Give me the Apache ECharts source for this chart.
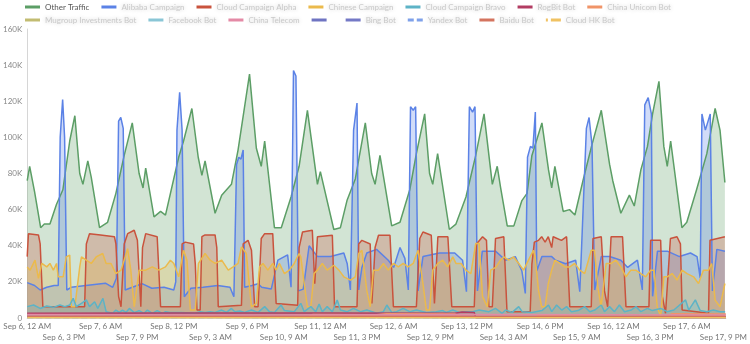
<!DOCTYPE html>
<html>
<head>
<meta charset="utf-8">
<script src="https://cdn.jsdelivr.net/npm/echarts@6/dist/echarts.min.js"></script>
<style>
html,body{margin:0;padding:0;background:#fff;}
#chart{width:750px;height:344px;}
</style>
</head>
<body>
<div id="chart"></div>
<script>
// x = hours since Sep 6, 12 AM ; y = requests in thousands (K)
const tickLabels = ['Sep 6, 12 AM','Sep 6, 3 PM','Sep 7, 6 AM','Sep 7, 9 PM','Sep 8, 12 PM','Sep 9, 3 AM','Sep 9, 6 PM','Sep 10, 9 AM','Sep 11, 12 AM','Sep 11, 3 PM','Sep 12, 6 AM','Sep 12, 9 PM','Sep 13, 12 PM','Sep 14, 3 AM','Sep 14, 6 PM','Sep 15, 9 AM','Sep 16, 12 AM','Sep 16, 3 PM','Sep 17, 6 AM','Sep 17, 9 PM'];
const yTicks = [0,20,40,60,80,100,120,140,160];

const otherTraffic = [[0,76],[1,84],[3,70],[5.5,50],[7,52],[9.3,52],[12,63],[14.6,71],[17.4,98],[19.5,112],[21.5,80],[22.8,74],[24.8,87],[26.2,78],[29.6,50],[32.9,53],[36.3,69],[39.7,90],[43,108],[45.8,80],[47.4,72],[48.5,83],[51.9,56],[54.6,59],[56.6,57],[62,89],[64,98],[67.4,116],[70,89],[71.5,79],[72.8,87],[76.9,58],[79.6,68],[83.6,74],[86.3,93],[91,135],[93.8,94],[95.8,84],[97.2,98],[101.2,50],[104,50],[108,67],[111.3,84],[114.7,115],[118.8,74],[120,81],[125.5,49],[128.2,50],[130.9,65],[134.3,77],[138.4,108],[141,80],[142.4,74],[144.4,90],[149.2,51],[152.6,53],[156.6,71],[159.3,91],[162.7,113],[164.7,80],[166,74],[168,91],[172.8,49],[175.5,52],[179.6,67],[183.6,90],[187,113],[190.4,74],[192.4,84],[193.8,72],[196.5,51],[199.2,51],[202.5,65],[204.6,69],[206.6,90],[210.7,108],[213.4,82],[214.7,72],[216,84],[219.4,59],[222,60],[224.2,57],[227.5,76],[231,95],[235,115],[238.4,85],[239.7,76],[243,58],[246.5,68],[248.5,62],[251.2,82],[253.9,95],[256,113],[258.6,131],[260.6,95],[262,84],[263.4,98],[268,50],[270,53],[274,71],[278.2,91],[281.6,116],[283.6,104],[285.6,75]];

const alibabaCampaign = [[0,19.6],[3,18],[5.3,15.5],[8,17],[11,18],[12.7,18],[13.5,100],[14.5,121],[15.3,100],[16.2,15.5],[18,17],[24,18],[32,19.3],[35,17],[36.5,22],[37.4,109],[38.3,111],[39.3,105],[40.1,15.5],[43,17],[47,19],[51,16.5],[56,17],[60,15.5],[60.8,20],[61.3,104],[62.4,125],[63.4,104],[64.3,11.8],[67,16.5],[72,17],[78,18],[83,17],[84.6,11.8],[85.7,85],[86.6,89],[87.5,88],[88.4,93],[89,17],[92,18],[94.5,19],[96,17],[99.9,16],[102.6,32],[106.6,35],[108,17],[109,137],[110,134],[111,15],[113,16],[115.4,40],[118.8,34],[124.2,34],[129.6,36],[131,30],[132.3,15.5],[133.6,104],[135,119],[135.7,15.5],[137,28],[139,36],[143,38],[147.8,32],[150,28],[152.6,39],[154.6,33],[156,15.5],[156.9,117],[158,115],[159,117],[160,15],[162,34],[168.8,36],[175,36],[178.2,32],[179.8,14.6],[181,117],[182.3,114],[183.3,117],[184.3,15],[186.3,37],[191.7,37],[195.8,32],[199.8,34],[202.5,26],[203.9,13.6],[204.8,89],[206,95],[207,94],[208,114],[208.6,26],[210.7,34],[214.7,34],[216.3,32],[220.4,30],[224.5,32],[226.2,14.6],[228.9,105],[230,111],[231.2,96],[232.3,15.5],[235,34],[238.4,34],[243,32],[245.8,28],[249.8,32],[251.8,15.5],[252.8,118],[254.2,122],[255.5,113],[256,12],[258,37],[262,37],[267,34],[271.5,36],[274.2,34],[275.5,22],[276.2,113],[277.6,104],[279.6,113],[280.5,15],[282.3,38],[285.6,37]];

const cloudCampaignAlpha = [[0,34],[0.5,46.6],[4.6,46],[5.3,41],[6.4,6.2],[23.5,6.2],[24.2,41],[25.5,46.7],[30,46],[35.7,45],[36.3,41],[37.4,12],[38.4,6.2],[39.7,41],[41.1,46.7],[43.8,48.6],[45.1,43],[46.5,6.2],[47.2,39],[48.5,46.7],[53.2,45],[54.6,6.2],[62.7,6.2],[63.4,41],[64.7,42],[68.1,41],[68.8,30],[69.5,4.4],[70.8,4.4],[71.5,45],[72.8,46],[76.9,46],[77.6,39],[78.2,6.2],[87.7,7],[88.4,41],[90.4,43],[91.8,37.5],[93.1,6.2],[94.5,6.2],[95.8,44],[97.2,46.7],[100.5,46.7],[101.9,8],[110.7,7],[111.3,39],[112.7,47.6],[116.7,48.6],[117.7,19],[118.8,45],[124.9,45.8],[125.8,6.2],[135,6.2],[135.7,41],[137,43],[140.4,41],[141.1,8],[142.4,39],[143.8,45.8],[148.5,45.8],[149.9,6.2],[159.3,6.2],[160.7,44],[162,47.6],[165.4,45.8],[166.7,8],[168.1,45],[172.2,45],[173.8,6.2],[183,6.2],[183.9,41],[186.4,45],[188,43],[189,6.2],[190.4,6.2],[191.7,44],[195.1,45],[195.8,44],[196.4,3.5],[205.9,3.5],[206.6,30],[207.6,42],[209.3,43],[210.6,45],[212,42],[213.3,45],[214.7,39],[215.3,45],[218.7,43],[220.8,45],[222.1,6.2],[230.9,6.2],[231.6,44],[235,45],[236.3,15],[237.6,6.2],[239,45],[243.7,45],[245.1,6.2],[254.5,6.2],[255.2,43],[259.3,43],[260,12],[261.3,2.6],[263.3,44],[266,45],[267.4,41],[268.1,4.4],[278.9,2.6],[279.5,43],[285.6,45]];

const chineseCampaign = [[0,28.3],[1.2,26.5],[3.2,32],[4.6,21.9],[6,30.2],[8,28.3],[9.3,30.2],[10.7,26.5],[12,30.2],[12.7,22.8],[14.7,22.8],[16,33.8],[17.4,34.8],[18.1,6.2],[19.5,6.2],[21.5,28.3],[22.2,33.8],[24.2,32],[26.2,30.2],[28.2,33.8],[30.9,35.7],[32.3,30.2],[34.3,30.2],[36.3,24.6],[38.4,26.5],[40.1,33.8],[41.1,38.4],[42.4,26.5],[43.8,6.2],[45.8,26.5],[48.5,26.5],[51.2,28.3],[53.9,26.5],[56.6,28.3],[58.6,32],[60,30.2],[62,22.8],[64,37.5],[65.4,32],[66.8,4.4],[68.8,4.4],[70.1,30.2],[72.8,35.7],[74.9,32],[76.9,30.2],[79.6,32],[82.3,26.5],[84.3,28.3],[86.3,30.2],[87.7,39.4],[89.7,35.7],[91.8,6.2],[93.8,8.1],[95.1,28.3],[96.5,30.2],[98.5,26.5],[100.5,30.2],[101.9,26.5],[103.2,30.2],[105.3,24.6],[107.3,26.5],[109.3,30.2],[111.3,35.7],[112,33.8],[113.4,19.1],[114.7,6.2],[116.1,6.2],[117.4,24.6],[118.8,26.5],[120.8,30.2],[122.8,26.5],[125.5,29.2],[127.6,26.5],[129.6,22.8],[132.3,21],[134.3,22.8],[135.7,35.7],[137,37.5],[139,15.4],[140.4,6.2],[141.7,26.5],[143.8,26.5],[145.8,30.2],[147.8,26.5],[149.9,30.2],[151.9,28.3],[153.9,30.2],[155.9,28.3],[158,30.2],[160,37.5],[160.7,37.5],[162,19.1],[163.4,4.4],[164.7,4.4],[166,26.5],[168.1,30.2],[170.1,32],[172.1,28.3],[174.2,33.8],[175.5,30.2],[177.6,30.2],[179.6,26.5],[181.6,24.6],[183.6,41.2],[185,41.2],[186.4,11.8],[188.4,6.2],[189.7,26.5],[191.8,28],[193.7,32],[195.1,33.8],[197.1,32],[199.1,33.8],[201.2,30.2],[203.2,26.5],[205.2,32],[207.2,37.5],[207.9,33.8],[209.3,15.4],[210.6,6.2],[212,6.2],[213.3,19.1],[214.7,26.5],[216,32],[218.1,30.2],[220.1,28.3],[222.1,28.3],[224.1,30.2],[226.2,26.5],[228.2,24.6],[230.9,37.5],[232.2,37.5],[233.6,17.3],[234.9,6.2],[237,30.2],[239,30.2],[241,32],[243,28.3],[245.1,22.8],[247.1,26.5],[249.1,26.5],[251.2,24.6],[253.2,22.8],[255.2,26.5],[256.6,26.5],[257.9,6.2],[259.3,0.8],[260.6,22.8],[262,22.8],[264,24.6],[266,21],[268.1,26.5],[270.1,24.6],[272.8,22.8],[274.8,19.1],[276.8,26.5],[278.9,26.5],[280.2,30.2],[281.6,9.9],[283.6,6.2],[285.6,19.1]];

const cloudCampaignBravo = [[0,6.3],[2.6,7.2],[5.3,5.3],[8,6.6],[10.7,5.9],[13.4,7.2],[15.4,6.3],[17.4,7.2],[18.8,10.9],[20.1,6.3],[22.2,8.1],[24.2,10],[25.5,6.3],[27.6,9],[28.9,5.3],[31,10.9],[32.3,3.5],[35,2.6],[36.3,4.4],[37.7,3.1],[39,4.4],[40.4,3.1],[41.8,5.3],[43.8,3],[45.8,4.1],[47.8,2.6],[49.2,4.4],[51.2,2.6],[53.2,4.1],[55.3,2.6],[56.6,3.5],[58.6,3],[63,3],[68.8,2.6],[70.8,3.5],[72.8,3],[74.9,3.5],[76.9,3.1],[79.6,4.4],[81.6,3.1],[83.6,5.3],[85,3.5],[87,3.9],[89,3.1],[91.8,4.4],[94.5,3.1],[97.2,6.3],[99.2,3.5],[101.2,3.1],[103.9,7.2],[105.3,4.1],[109.3,3.5],[112,8.1],[113.4,3.5],[116.1,6.3],[118.1,3.5],[119.5,7.7],[120.8,3.5],[122.8,6.3],[124.9,3.5],[126.9,10],[128.2,4.4],[131,3.5],[133.6,5.3],[136.4,3.5],[139,4.4],[143.1,2.6],[145.8,3.5],[147.2,7.2],[149.2,3.1],[151.2,3.5],[153.9,5.3],[156.6,3.5],[159.3,4.4],[163.4,3.1],[167.4,3.5],[170.1,4.1],[171.5,3.1],[174.2,4.4],[176.9,3.1],[179.6,3.5],[182.3,3.5],[185,4.4],[189,3.5],[191.7,5.3],[194.4,2.6],[195.8,4.4],[198.5,3.1],[201.2,6.3],[202.6,3.5],[206.6,3.1],[210.7,4.1],[213.4,7.2],[214.7,3.5],[216.7,7.2],[218.8,4.4],[220.8,6.3],[222.8,3.5],[225.5,4.1],[228.2,6.3],[230.3,3.5],[232.3,4.4],[235,7.2],[236.3,3.5],[238.4,6.3],[240.4,3.5],[242.4,7.2],[244.5,3.5],[247.2,4.4],[249.2,6.3],[251.2,3.5],[253.9,5.3],[255.9,4.1],[259.3,5.3],[262,3.5],[264.7,4.4],[269.5,10],[270.8,4.4],[273.5,10],[275.5,4.1],[278.2,3.5],[280.9,4.4],[283.6,3.5],[285.7,3.5]];

const rogbitBot = [[0,2.6],[60,2.7],[120,2.8],[175,2.6],[178,3.3],[183,3.1],[183.6,0.2],[286,0.2]];
const chinaUnicomBot = [[0,0.6],[115,0.6],[117,2],[143,1.8],[147,2.3],[175,2.2],[178,0.6],[208,0.6],[210,1.8],[230,1.6],[232,0.6],[262,0.6],[264,2.4],[286,2.2]];
const mugroupBot = [[0,0.3],[286,0.3]];
const facebookBot = [[0,0.6],[286,0.6]];
const chinaTelecom = [[0,1.9],[90,1.7],[180,1.9],[286,1.6]];
const unnamedBot = [[0,0.4],[286,0.4]];
const bingBot = [[0,0.5],[286,0.5]];
const yandexBot = [[0,0.3],[286,0.3]];
const baiduBot = [[0,0.8],[286,0.8]];
const cloudHkBot = [[0,0.2],[286,0.2]];

const row1 = [
  {name:'Other Traffic', data:otherTraffic, color:'#5c9e66'},
  {name:'Alibaba Campaign', data:alibabaCampaign, color:'#5b82e6'},
  {name:'Cloud Campaign Alpha', data:cloudCampaignAlpha, color:'#c9533d'},
  {name:'Chinese Campaign', data:chineseCampaign, color:'#ebba4c'},
  {name:'Cloud Campaign Bravo', data:cloudCampaignBravo, color:'#5db3c6'},
  {name:'RogBit Bot', data:rogbitBot, color:'#b23c62'},
  {name:'China Unicom Bot', data:chinaUnicomBot, color:'#f09468'}
];
const row2 = [
  {name:'Mugroup Investments Bot', data:mugroupBot, color:'#c2bc72'},
  {name:'Facebook Bot', data:facebookBot, color:'#8ac6d6'},
  {name:'China Telecom', data:chinaTelecom, color:'#e48aa6'},
  {name:' ', data:unnamedBot, color:'#6f74c2'},
  {name:'Bing Bot', data:bingBot, color:'#7479c6'},
  {name:'Yandex Bot', data:yandexBot, color:'#7fa1ea', dashed:true},
  {name:'Baidu Bot', data:baiduBot, color:'#d4745f'},
  {name:'Cloud HK Bot', data:cloudHkBot, color:'#f0c262', dotted:true}
];
const all = row1.concat(row2);

const blurText = {color:'#c9c9c9', textShadowColor:'#c9c9c9', textShadowBlur:4, fontSize:8, fontFamily:'Lato'};
function legendData(row){
  return row.map(s => {
    const d = {name:s.name};
    if (s.name !== 'Other Traffic') d.textStyle = blurText;
    if (s.dashed) d.icon = 'path://M0,0H6V3H0Z M9,0H15V3H9Z';
    if (s.dotted) d.icon = 'path://M0,0H2V3H0Z M5,0H15V3H5Z';
    return d;
  });
}

function xAxisFor(parity, margin, showLine){
  return {
    type:'value', min:0, max:286, interval:15, gridIndex:0, position:'bottom',
    axisLine:{show:showLine, lineStyle:{color:'#d6d6d6'}},
    axisTick:{show:false}, splitLine:{show:false},
    axisLabel:{fontSize:8, color:'#777', margin:margin, showMinLabel:true, showMaxLabel:true,
      formatter:function(v){
        if (v % 15 !== 0) return '';
        const i = v / 15;
        return i % 2 === parity ? (tickLabels[i] || '') : '';
      }}
  };
}

const chart = echarts.init(document.getElementById('chart'), null, {renderer:'canvas'});
chart.setOption({
  animation:false,
  textStyle:{fontFamily:'Lato'},
  legend:[
    {data:legendData(row1), left:25, top:3, itemWidth:15, itemHeight:3, itemGap:12, icon:'rect', padding:0,
     textStyle:{fontSize:8, color:'#555', fontFamily:'Lato'}},
    {data:legendData(row2), left:25, top:16, itemWidth:15, itemHeight:3, itemGap:12, icon:'rect', padding:0,
     textStyle:{fontSize:8, color:'#555', fontFamily:'Lato'}}
  ],
  grid:{left:27, right:18, top:29, bottom:26, containLabel:false},
  xAxis:[xAxisFor(0, 4, true), xAxisFor(1, 15, false)],
  yAxis:{
    type:'value', min:yTicks[0], max:yTicks[yTicks.length-1], interval:20,
    axisLine:{show:true, lineStyle:{color:'#d6d6d6'}},
    axisTick:{show:false}, splitLine:{show:false},
    axisLabel:{fontSize:8, color:'#888', margin:5,
      formatter:function(v){ return v === 0 ? '0' : v + 'K'; }}
  },
  series: all.map(s => ({
    name:s.name, type:'line', xAxisIndex:0, data:s.data, showSymbol:false, symbol:'none',
    lineStyle:{width:1.5, color:s.color, type: s.dashed ? 'dashed' : 'solid'},
    itemStyle:{color:s.color},
    areaStyle:{color:s.color, opacity:0.28}
  }))
});
</script>
</body>
</html>
